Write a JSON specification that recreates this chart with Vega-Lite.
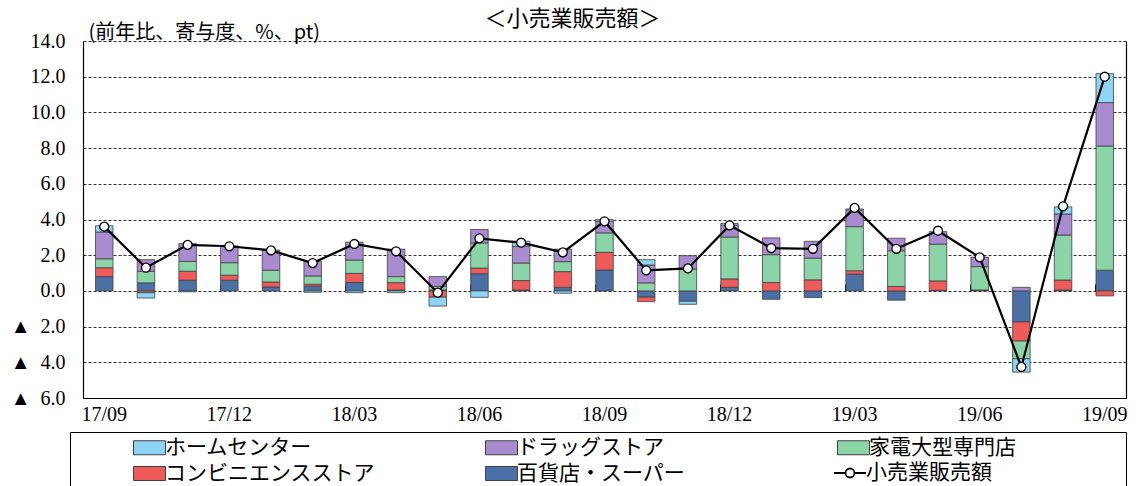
{
  "$schema": "https://vega.github.io/schema/vega-lite/v6.json",
  "width": 1043,
  "height": 357,
  "autosize": {"type": "none"},
  "padding": {"left": 83, "top": 41, "right": 13, "bottom": 88},
  "background": "white",
  "title": {"text": "＜小売業販売額＞", "font": "Noto Sans CJK JP", "fontSize": 22, "fontWeight": "normal", "color": "#000000", "anchor": "middle", "dx": -32, "dy": 13, "frame": "group"},
  "config": {
    "view": {"stroke": null},
    "axis": {"labelColor": "#000000", "domainColor": "#000000", "domainWidth": 1.2, "labelFont": "Liberation Serif", "labelFontSize": 20, "titleColor": "#000000"}
  },
  "datasets": {
    "bars": [
      {"m": "17/09", "s": "百貨店・スーパー", "v": 0.8}, {"m": "17/09", "s": "コンビニエンスストア", "v": 0.5}, {"m": "17/09", "s": "家電大型専門店", "v": 0.5}, {"m": "17/09", "s": "ドラッグストア", "v": 1.5}, {"m": "17/09", "s": "ホームセンター", "v": 0.35},
      {"m": "17/10", "s": "百貨店・スーパー", "v": 0.45}, {"m": "17/10", "s": "コンビニエンスストア", "v": -0.1}, {"m": "17/10", "s": "家電大型専門店", "v": 0.65}, {"m": "17/10", "s": "ドラッグストア", "v": 0.65}, {"m": "17/10", "s": "ホームセンター", "v": -0.3},
      {"m": "17/11", "s": "百貨店・スーパー", "v": 0.6}, {"m": "17/11", "s": "コンビニエンスストア", "v": 0.5}, {"m": "17/11", "s": "家電大型専門店", "v": 0.55}, {"m": "17/11", "s": "ドラッグストア", "v": 1.0}, {"m": "17/11", "s": "ホームセンター", "v": -0.05},
      {"m": "17/12", "s": "百貨店・スーパー", "v": 0.6}, {"m": "17/12", "s": "コンビニエンスストア", "v": 0.28}, {"m": "17/12", "s": "家電大型専門店", "v": 0.7}, {"m": "17/12", "s": "ドラッグストア", "v": 0.94},
      {"m": "18/01", "s": "百貨店・スーパー", "v": 0.22}, {"m": "18/01", "s": "コンビニエンスストア", "v": 0.28}, {"m": "18/01", "s": "家電大型専門店", "v": 0.66}, {"m": "18/01", "s": "ドラッグストア", "v": 1.13},
      {"m": "18/02", "s": "百貨店・スーパー", "v": 0.26}, {"m": "18/02", "s": "コンビニエンスストア", "v": 0.11}, {"m": "18/02", "s": "家電大型専門店", "v": 0.47}, {"m": "18/02", "s": "ドラッグストア", "v": 0.81}, {"m": "18/02", "s": "ホームセンター", "v": -0.08},
      {"m": "18/03", "s": "百貨店・スーパー", "v": 0.47}, {"m": "18/03", "s": "コンビニエンスストア", "v": 0.51}, {"m": "18/03", "s": "家電大型専門店", "v": 0.75}, {"m": "18/03", "s": "ドラッグストア", "v": 1.0}, {"m": "18/03", "s": "ホームセンター", "v": -0.1},
      {"m": "18/04", "s": "百貨店・スーパー", "v": 0.05}, {"m": "18/04", "s": "コンビニエンスストア", "v": 0.41}, {"m": "18/04", "s": "家電大型専門店", "v": 0.34}, {"m": "18/04", "s": "ドラッグストア", "v": 1.54}, {"m": "18/04", "s": "ホームセンター", "v": -0.1},
      {"m": "18/05", "s": "百貨店・スーパー", "v": 0.05}, {"m": "18/05", "s": "コンビニエンスストア", "v": -0.35}, {"m": "18/05", "s": "家電大型専門店", "v": 0.2}, {"m": "18/05", "s": "ドラッグストア", "v": 0.55}, {"m": "18/05", "s": "ホームセンター", "v": -0.5},
      {"m": "18/06", "s": "百貨店・スーパー", "v": 0.96}, {"m": "18/06", "s": "コンビニエンスストア", "v": 0.32}, {"m": "18/06", "s": "家電大型専門店", "v": 1.41}, {"m": "18/06", "s": "ドラッグストア", "v": 0.75}, {"m": "18/06", "s": "ホームセンター", "v": -0.36},
      {"m": "18/07", "s": "百貨店・スーパー", "v": 0.05}, {"m": "18/07", "s": "コンビニエンスストア", "v": 0.53}, {"m": "18/07", "s": "家電大型専門店", "v": 0.98}, {"m": "18/07", "s": "ドラッグストア", "v": 0.94}, {"m": "18/07", "s": "ホームセンター", "v": 0.28},
      {"m": "18/08", "s": "百貨店・スーパー", "v": 0.2}, {"m": "18/08", "s": "コンビニエンスストア", "v": 0.88}, {"m": "18/08", "s": "家電大型専門店", "v": 0.56}, {"m": "18/08", "s": "ドラッグストア", "v": 0.7}, {"m": "18/08", "s": "ホームセンター", "v": -0.13},
      {"m": "18/09", "s": "百貨店・スーパー", "v": 1.17}, {"m": "18/09", "s": "コンビニエンスストア", "v": 0.99}, {"m": "18/09", "s": "家電大型専門店", "v": 1.09}, {"m": "18/09", "s": "ドラッグストア", "v": 0.65}, {"m": "18/09", "s": "ホームセンター", "v": 0.1},
      {"m": "18/10", "s": "百貨店・スーパー", "v": -0.35}, {"m": "18/10", "s": "コンビニエンスストア", "v": -0.25}, {"m": "18/10", "s": "家電大型専門店", "v": 0.45}, {"m": "18/10", "s": "ドラッグストア", "v": 1.0}, {"m": "18/10", "s": "ホームセンター", "v": 0.3},
      {"m": "18/11", "s": "百貨店・スーパー", "v": -0.58}, {"m": "18/11", "s": "家電大型専門店", "v": 1.22}, {"m": "18/11", "s": "ドラッグストア", "v": 0.75}, {"m": "18/11", "s": "ホームセンター", "v": -0.17},
      {"m": "18/12", "s": "百貨店・スーパー", "v": 0.2}, {"m": "18/12", "s": "コンビニエンスストア", "v": 0.47}, {"m": "18/12", "s": "家電大型専門店", "v": 2.35}, {"m": "18/12", "s": "ドラッグストア", "v": 0.66}, {"m": "18/12", "s": "ホームセンター", "v": 0.1},
      {"m": "19/01", "s": "百貨店・スーパー", "v": -0.47}, {"m": "19/01", "s": "コンビニエンスストア", "v": 0.47}, {"m": "19/01", "s": "家電大型専門店", "v": 1.56}, {"m": "19/01", "s": "ドラッグストア", "v": 0.94},
      {"m": "19/02", "s": "百貨店・スーパー", "v": -0.37}, {"m": "19/02", "s": "コンビニエンスストア", "v": 0.62}, {"m": "19/02", "s": "家電大型専門店", "v": 1.22}, {"m": "19/02", "s": "ドラッグストア", "v": 0.94},
      {"m": "19/03", "s": "百貨店・スーパー", "v": 0.94}, {"m": "19/03", "s": "コンビニエンスストア", "v": 0.19}, {"m": "19/03", "s": "家電大型専門店", "v": 2.47}, {"m": "19/03", "s": "ドラッグストア", "v": 0.94}, {"m": "19/03", "s": "ホームセンター", "v": 0.05},
      {"m": "19/04", "s": "百貨店・スーパー", "v": -0.52}, {"m": "19/04", "s": "コンビニエンスストア", "v": 0.25}, {"m": "19/04", "s": "家電大型専門店", "v": 2.0}, {"m": "19/04", "s": "ドラッグストア", "v": 0.7},
      {"m": "19/05", "s": "百貨店・スーパー", "v": 0.03}, {"m": "19/05", "s": "コンビニエンスストア", "v": 0.53}, {"m": "19/05", "s": "家電大型専門店", "v": 2.06}, {"m": "19/05", "s": "ドラッグストア", "v": 0.7},
      {"m": "19/06", "s": "百貨店・スーパー", "v": 0.03}, {"m": "19/06", "s": "コンビニエンスストア", "v": 0.02}, {"m": "19/06", "s": "家電大型専門店", "v": 1.31}, {"m": "19/06", "s": "ドラッグストア", "v": 0.53},
      {"m": "19/07", "s": "百貨店・スーパー", "v": -1.74}, {"m": "19/07", "s": "コンビニエンスストア", "v": -1.07}, {"m": "19/07", "s": "家電大型専門店", "v": -0.99}, {"m": "19/07", "s": "ドラッグストア", "v": 0.2}, {"m": "19/07", "s": "ホームセンター", "v": -0.75},
      {"m": "19/08", "s": "百貨店・スーパー", "v": 0.05}, {"m": "19/08", "s": "コンビニエンスストア", "v": 0.56}, {"m": "19/08", "s": "家電大型専門店", "v": 2.52}, {"m": "19/08", "s": "ドラッグストア", "v": 1.18}, {"m": "19/08", "s": "ホームセンター", "v": 0.4},
      {"m": "19/09", "s": "百貨店・スーパー", "v": 1.16}, {"m": "19/09", "s": "コンビニエンスストア", "v": -0.28}, {"m": "19/09", "s": "家電大型専門店", "v": 6.96}, {"m": "19/09", "s": "ドラッグストア", "v": 2.43}, {"m": "19/09", "s": "ホームセンター", "v": 1.62}
    ],
    "total": [
      {"m": "17/09", "v": 3.6}, {"m": "17/10", "v": 1.3}, {"m": "17/11", "v": 2.58}, {"m": "17/12", "v": 2.5}, {"m": "18/01", "v": 2.27},
      {"m": "18/02", "v": 1.56}, {"m": "18/03", "v": 2.63}, {"m": "18/04", "v": 2.22}, {"m": "18/05", "v": -0.1}, {"m": "18/06", "v": 2.94},
      {"m": "18/07", "v": 2.7}, {"m": "18/08", "v": 2.16}, {"m": "18/09", "v": 3.9}, {"m": "18/10", "v": 1.15}, {"m": "18/11", "v": 1.26},
      {"m": "18/12", "v": 3.67}, {"m": "19/01", "v": 2.4}, {"m": "19/02", "v": 2.36}, {"m": "19/03", "v": 4.65}, {"m": "19/04", "v": 2.36},
      {"m": "19/05", "v": 3.37}, {"m": "19/06", "v": 1.88}, {"m": "19/07", "v": -4.26}, {"m": "19/08", "v": 4.74}, {"m": "19/09", "v": 12.0}
    ]
  },
  "layer": [
    {
      "data": {"name": "bars"},
      "transform": [{"calculate": "indexof(['百貨店・スーパー','コンビニエンスストア','家電大型専門店','ドラッグストア','ホームセンター'], datum.s)", "as": "k"}],
      "mark": {"type": "bar", "stroke": "#404040", "strokeWidth": 0.8},
      "encoding": {
        "x": {"field": "m", "type": "ordinal", "scale": {"paddingInner": 0.58, "paddingOuter": 0.3},
              "axis": {"orient": "bottom", "title": null, "values": ["17/09","17/12","18/03","18/06","18/09","18/12","19/03","19/06","19/09"], "labelAngle": 0, "ticks": false, "tickSize": 0, "labelPadding": 6, "grid": false}},
        "y": {"field": "v", "type": "quantitative", "stack": "zero", "scale": {"domain": [-6, 14], "nice": false},
              "axis": {"orient": "left", "values": [-6,-4,-2,0,2,4,6,8,10,12,14], "labelExpr": "datum.value < 0 ? '▲\u2002' + format(-datum.value, '.1f') : format(datum.value, '.1f')", "ticks": false, "tickSize": 0, "labelPadding": 18, "grid": true, "gridColor": "#000000", "gridDash": [3, 2], "gridWidth": 0.8,
                       "title": "(前年比、寄与度、%、pt)", "titleAngle": 0, "titleAlign": "left", "titleBaseline": "alphabetic", "titleX": 5, "titleY": -3, "titleFont": "Noto Sans CJK JP", "titleFontSize": 20, "titleFontWeight": "normal"}},
        "color": {"field": "s", "type": "nominal",
                  "scale": {"domain": ["ホームセンター","ドラッグストア","家電大型専門店","コンビニエンスストア","百貨店・スーパー"],
                            "range": ["#8dd5f5","#a98bd0","#8ad4a8","#ef5b5b","#4a70a6"]},
                  "legend": {"orient": "none", "legendX": -13, "legendY": 391, "direction": "horizontal", "columns": 3, "gridAlign": "all",
                             "columnPadding": 10, "rowPadding": 4, "padding": 5, "strokeColor": "#000000", "fillColor": "#ffffff",
                             "symbolOffset": 64, "symbolSize": 400, "symbolType": "M-1.6,-0.7H1.6V0.7H-1.6Z", "symbolStrokeColor": "#404040", "symbolStrokeWidth": 1, "symbolOpacity": 1,
                             "labelFont": "Noto Sans CJK JP", "labelFontSize": 21, "labelColor": "#000000", "labelOffset": 5, "labelLimit": 500, "title": null,
                             "labelExpr": "datum.label === '家電大型専門店' ? datum.label + '\u2800\u2800\u2800\u2800\u2800\u2800\u2800' : datum.label"}},
        "order": {"field": "k", "type": "quantitative"}
      }
    },
    {
      "mark": {"type": "rule", "color": "#000000", "strokeWidth": 1.2},
      "encoding": {"y": {"datum": 0, "type": "quantitative", "axis": null}}
    },
    {
      "data": {"name": "total"},
      "mark": {"type": "line", "strokeWidth": 2.2},
      "encoding": {
        "x": {"field": "m", "type": "ordinal",
              "axis": {"orient": "top", "offset": -250, "title": null, "domain": false, "labels": false, "ticks": true, "tickSize": 7, "tickColor": "#000000", "tickWidth": 1, "bandPosition": 0, "grid": false,
                       "values": ["17/12","18/03","18/06","18/09","18/12","19/03","19/06","19/09"]}},
        "y": {"field": "v", "type": "quantitative", "axis": null},
        "stroke": {"datum": "小売業販売額", "type": "nominal", "scale": {"domain": ["小売業販売額"], "range": ["#000000"]},
                   "legend": {"orient": "none", "legendX": 756, "legendY": 421, "padding": 0, "title": null,
                              "symbolType": "M-1.6,0H-0.45M0.45,0H1.6M0.45,0A0.45,0.45,0,1,1,-0.45,0A0.45,0.45,0,1,1,0.45,0",
                              "symbolSize": 400, "symbolStrokeColor": "#000000", "symbolStrokeWidth": 1.8, "symbolFillColor": "#ffffff", "symbolOpacity": 1,
                              "labelFont": "Noto Sans CJK JP", "labelFontSize": 21, "labelColor": "#000000", "labelOffset": 5}}
      }
    },
    {
      "data": {"name": "total"},
      "mark": {"type": "point", "filled": true, "fill": "#ffffff", "stroke": "#000000", "strokeWidth": 1.3, "size": 80, "opacity": 1},
      "encoding": {
        "x": {"field": "m", "type": "ordinal", "axis": null},
        "y": {"field": "v", "type": "quantitative", "axis": {"orient": "right", "labels": false, "ticks": false, "grid": false, "domain": true, "title": null}}
      }
    }
  ],
  "resolve": {"axis": {"x": "independent", "y": "independent"}}
}
